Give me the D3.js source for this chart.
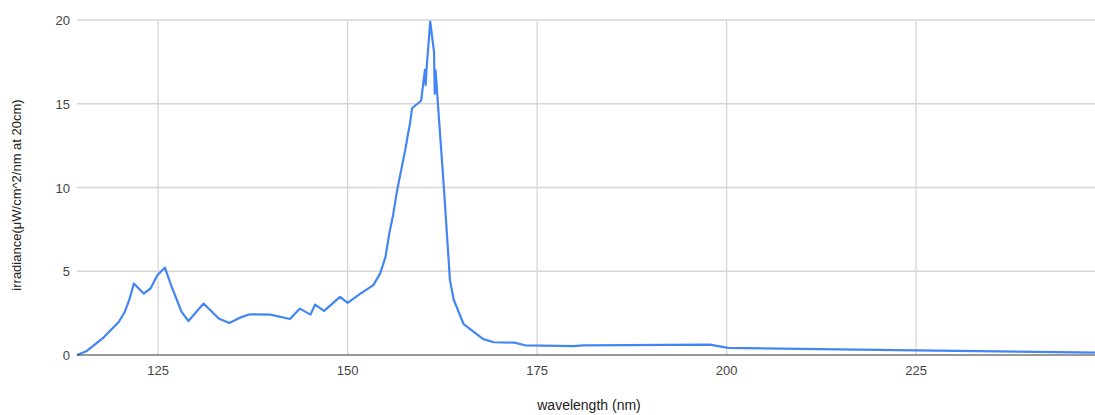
<!DOCTYPE html>
<html>
<head>
<meta charset="utf-8">
<script src="https://cdn.jsdelivr.net/npm/d3@7"></script>
<style>
  body { margin: 0; background: #fff; }
  text { font-family: "Liberation Sans", Arial, sans-serif; fill: #444; }
</style>
</head>
<body>
<div id="chart"></div>
<script>

// Data
var wavelength = [114.3, 115.6, 117.8, 119.8, 120.6, 121.2, 121.8, 123.1, 124, 124.9,
    125.9, 126.8, 128.1, 129, 131, 131.9, 133, 134.4, 135.8, 137.1,
    139.8, 142.4, 143.7, 145.1, 145.7, 146.9, 149, 150, 151.6, 153.4,
    154.3, 155, 155.5, 156, 156.5, 156.8, 157.6, 157.9, 158.2, 158.5,
    159.7, 160.2, 160.3, 160.4, 160.9, 161.4, 161.5, 161.6, 162.7, 163.5,
    164, 165.3, 167.9, 169.3, 172, 173.4, 179.8, 181.1, 197.8, 200.2,
    209.7, 225, 248.6];
var irradiance = [0, 0.24, 1.04, 1.97, 2.57, 3.3, 4.27, 3.67, 3.97, 4.76,
    5.22, 4.06, 2.57, 2.03, 3.07, 2.67, 2.18, 1.91, 2.23, 2.43,
    2.41, 2.15, 2.77, 2.41, 3.01, 2.63, 3.47, 3.11, 3.63, 4.17,
    4.87, 5.86, 7.26, 8.35, 9.74, 10.44, 12.23, 13.03, 13.73, 14.73,
    15.18, 17.02, 16.12, 17.0, 19.9, 18.1, 15.6, 17.0, 10, 4.47,
    3.3, 1.85, 0.95, 0.76, 0.74, 0.58, 0.53, 0.58, 0.62, 0.43,
    0.36, 0.28, 0.14];
var xTicks = [125, 150, 175, 200, 225];
var yTicks = [0, 5, 10, 15, 20];

var data = wavelength.map(function(w, i) { return { w: w, v: irradiance[i] }; });

// SVG drawing area
var width = 1095,
    height = 415;
var margin = { top: 20, right: 0, bottom: 60, left: 77 };

var svg = d3.select("#chart").append("svg")
    .attr("width", width)
    .attr("height", height);

var x = d3.scaleLinear()
    .domain([114.3, 248.6])
    .range([margin.left, width - margin.right]);

var y = d3.scaleLinear()
    .domain([0, 20])
    .range([height - margin.bottom, margin.top]);

// Gridlines
svg.append("g")
    .selectAll("line.hgrid")
    .data(yTicks.slice(1))
    .enter().append("line")
    .attr("x1", margin.left)
    .attr("x2", width - margin.right)
    .attr("y1", function(d) { return y(d); })
    .attr("y2", function(d) { return y(d); })
    .attr("stroke", "#d6d6d6")
    .attr("stroke-width", 1.3);

svg.append("g")
    .selectAll("line.vgrid")
    .data(xTicks)
    .enter().append("line")
    .attr("x1", function(d) { return x(d); })
    .attr("x2", function(d) { return x(d); })
    .attr("y1", y(20))
    .attr("y2", y(0))
    .attr("stroke", "#d6d6d6")
    .attr("stroke-width", 1.3);

// Tick labels
svg.append("g")
    .selectAll("text")
    .data(yTicks)
    .enter().append("text")
    .attr("x", 70)
    .attr("y", function(d) { return y(d) + 5; })
    .attr("text-anchor", "end")
    .style("font-size", "13px")
    .text(function(d) { return d; });

svg.append("g")
    .selectAll("text")
    .data(xTicks)
    .enter().append("text")
    .attr("x", function(d) { return x(d); })
    .attr("y", y(0) + 20)
    .attr("text-anchor", "middle")
    .style("font-size", "13px")
    .text(function(d) { return d; });

// Line
var line = d3.line()
    .x(function(d) { return x(d.w); })
    .y(function(d) { return y(d.v); });

svg.append("path")
    .datum(data)
    .attr("d", line)
    .attr("fill", "none")
    .attr("stroke", "#4285f4")
    .attr("stroke-width", 2.2)
    .attr("stroke-linejoin", "round");

// Baseline
svg.append("line")
    .attr("x1", margin.left)
    .attr("x2", width - margin.right)
    .attr("y1", y(0))
    .attr("y2", y(0))
    .attr("stroke", "#333")
    .attr("stroke-width", 1);

// Axis titles
svg.append("text")
    .attr("x", 589)
    .attr("y", 410)
    .attr("text-anchor", "middle")
    .style("font-size", "14px")
    .style("fill", "#222")
    .text("wavelength (nm)");

svg.append("text")
    .attr("transform", "translate(21,195) rotate(-90)")
    .attr("text-anchor", "middle")
    .style("font-size", "13px")
    .style("fill", "#222")
    .text("irradiance(μW/cm^2/nm at 20cm)");

</script>
</body>
</html>
